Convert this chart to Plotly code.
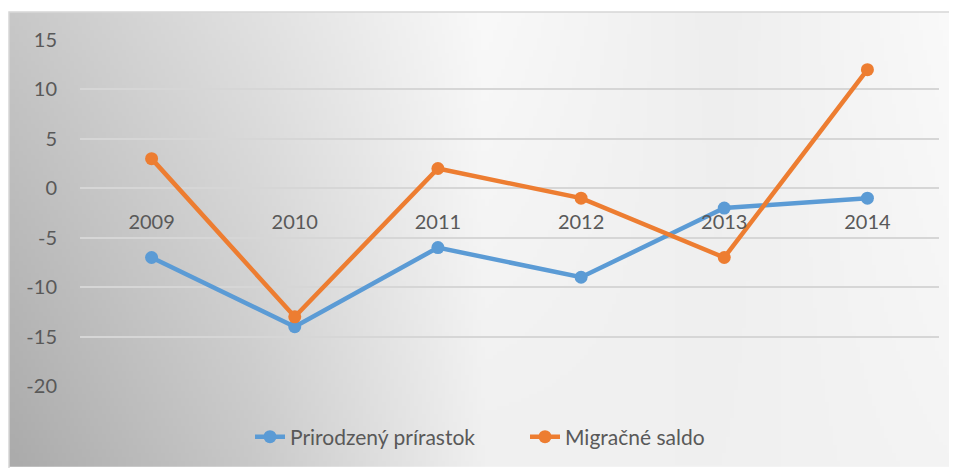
import base64, struct, zlib
import numpy as np
import plotly.graph_objects as go

# ---- data ----
years = ["2009", "2010", "2011", "2012", "2013", "2014"]
prirodzeny = [-7, -14, -6, -9, -2, -1]
migracne = [3, -13, 2, -1, -7, 12]
series_names = ["Prirodzený prírastok", "Migračné saldo"]
y_ticks = [15, 10, 5, 0, -5, -10, -15, -20]
y_tick_text = ["15", "10", "5", "0", "-5", "-10", "-15", "-20"]

BLUE = "#5B9BD5"
ORANGE = "#ED7D31"
TXT = "#595959"

# page body has an 8px margin; work in figure coordinates = page - 8
OFF = 8
W, H = 957 - OFF, 468 - OFF
ML, MR, MT, MB = 80 - OFF, 18, 40 - OFF, 468 - 387
PW, PH = W - ML - MR, H - MT - MB


def px2x(px):
    return (px - OFF - ML) / PW


def py2y(py):
    return (H - MB - (py - OFF)) / PH


# ---- gradient background image (decorative) ----
def gradient_png(w, h):
    xs = np.linspace(0, 1, w)
    top = np.interp(xs, [0, 0.25, 0.5, 0.75, 1.0], [200, 224, 249, 238, 250])
    bot = np.interp(xs, [0, 0.25, 0.5, 0.75, 1.0], [171, 200, 240, 240, 244])
    ys = np.linspace(0, 1, h)[:, None]
    g = top[None, :] * (1 - ys) + bot[None, :] * ys
    g = np.clip(g, 0, 255).astype(np.uint8)
    rgb = np.repeat(g[:, :, None], 3, axis=2)
    raw = b"".join(b"\x00" + rgb[r].tobytes() for r in range(h))

    def chunk(t, d):
        c = struct.pack(">I", len(d)) + t + d
        return c + struct.pack(">I", zlib.crc32(t + d) & 0xFFFFFFFF)

    png = b"\x89PNG\r\n\x1a\n"
    png += chunk(b"IHDR", struct.pack(">IIBBBBB", w, h, 8, 2, 0, 0, 0))
    png += chunk(b"IDAT", zlib.compress(raw, 9))
    png += chunk(b"IEND", b"")
    return "data:image/png;base64," + base64.b64encode(png).decode()


fig = go.Figure()
for name, vals, col in [(series_names[0], prirodzeny, BLUE), (series_names[1], migracne, ORANGE)]:
    fig.add_trace(go.Scatter(
        x=years, y=vals, name=name, mode="lines+markers",
        line=dict(color=col, width=4.5),
        marker=dict(color=col, size=13),
    ))

x0p, x1p = px2x(9), px2x(957)
y0p, y1p = py2y(468), py2y(12)

fig.update_layout(
    width=W, height=H,
    margin=dict(l=ML, r=MR, t=MT, b=MB),
    paper_bgcolor="white",
    plot_bgcolor="rgba(0,0,0,0)",
    font=dict(family="Lato", size=20, color=TXT),
    showlegend=True,
    legend=dict(
        orientation="h", x=px2x(525), xanchor="center",
        y=py2y(437), yanchor="middle",
        bgcolor="rgba(0,0,0,0)", font=dict(size=21, color=TXT),
        itemwidth=30, entrywidth=230,
    ),
    images=[dict(
        source=gradient_png(240, 116), xref="paper", yref="paper",
        x=x0p, y=y1p, sizex=x1p - x0p, sizey=y1p - y0p,
        xanchor="left", yanchor="top", sizing="stretch", layer="below",
    )],
    shapes=[dict(
        type="rect", xref="paper", yref="paper",
        x0=x0p, x1=x1p + 0.01, y0=y0p - 0.01, y1=y1p,
        line=dict(color="#d6d6d6", width=1.5), fillcolor="rgba(0,0,0,0)",
        layer="below",
    )],
    xaxis=dict(
        type="category", range=[-0.5, 5.5],
        showgrid=False, showline=False, zeroline=False,
        anchor="free", position=20 / 35,
        ticks="", ticklabelstandoff=20,
        tickfont=dict(size=20, color=TXT),
    ),
    yaxis=dict(
        range=[-20, 15], tickvals=y_ticks, ticktext=y_tick_text,
        showgrid=True, gridcolor="#d6d6d6", gridwidth=1.5,
        zeroline=False, showline=False, ticks="",
        ticklabelstandoff=22,
        tickfont=dict(size=20, color=TXT),
    ),
)

fig.write_html("out.html")
